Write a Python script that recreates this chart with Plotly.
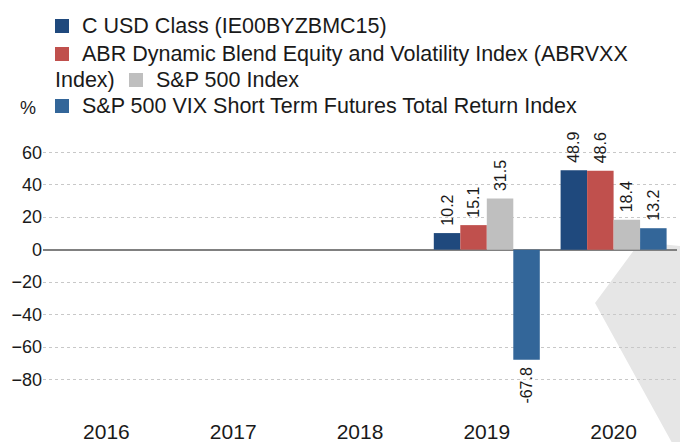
import plotly.graph_objects as go

years = ["2016", "2017", "2018", "2019", "2020"]
series_names = [
    "C USD Class (IE00BYZBMC15)",
    "ABR Dynamic Blend Equity and Volatility Index (ABRVXX Index)",
    "S&P 500 Index",
    "S&P 500 VIX Short Term Futures Total Return Index",
]
c_usd = [None, None, None, 10.2, 48.9]
abr_index = [None, None, None, 15.1, 48.6]
sp500 = [None, None, None, 31.5, 18.4]
vix_str = [None, None, None, -67.8, 13.2]
colors = ["#1f497d", "#c0504d", "#bfbfbf", "#336699"]
y_ticks = [-80, -60, -40, -20, 0, 20, 40, 60]

W, H = 680, 442
L, R, T, B = 43, 3, 136, 25
PW, PH = W - L - R, H - T - B


def px(x):
    return (x - L) / PW


def py(y):
    return (H - B - y) / PH


NB = "\u00a0"


def lab(v):
    if v is None:
        return None
    s = f"{v:.1f}"
    return NB + s if v >= 0 else s + NB


FONT = "Liberation Sans, Arial, sans-serif"
fig = go.Figure()
for name, vals, col in zip(series_names, [c_usd, abr_index, sp500, vix_str], colors):
    fig.add_trace(go.Bar(
        x=years, y=vals, name=name, marker_color=col, marker_line_width=0,
        text=[lab(v) for v in vals],
        textposition="outside", textangle=-90, cliponaxis=False,
        constraintext="none",
        textfont=dict(family=FONT, size=16, color="#1a1a1a"),
        showlegend=False,
    ))

# decorative wedge
pts = [(595, 303), (640, 242), (680, 246), (700, 247), (700, 450), (676, 450)]
path = "M " + " L ".join(f"{px(x):.4f},{py(y):.4f}" for x, y in pts) + " Z"
shapes = [dict(type="path", xref="paper", yref="paper", path=path,
               fillcolor="#e6e6e6", line=dict(width=0), layer="below")]

annotations = []
legend_font = dict(family=FONT, size=21.5, color="#1a1a1a")
items = [
    (55, 26, 80, series_names[0]),
    (55, 54, 80, "ABR Dynamic Blend Equity and Volatility Index (ABRVXX"),
    (129, 80, 154, series_names[2]),
    (55, 106, 80, series_names[3]),
]
for (sx, cy, tx, txt), col in zip(items, colors):
    shapes.append(dict(type="rect", xref="paper", yref="paper",
                       x0=px(sx), x1=px(sx + 14), y0=py(cy - 7), y1=py(cy + 7),
                       fillcolor=col, line=dict(width=0)))
    annotations.append(dict(xref="paper", yref="paper", x=px(tx), y=py(cy),
                            xanchor="left", yanchor="middle", text=txt,
                            showarrow=False, font=legend_font))
annotations.append(dict(xref="paper", yref="paper", x=px(53), y=py(80),
                        xanchor="left", yanchor="middle", text="Index)",
                        showarrow=False, font=legend_font))
annotations.append(dict(xref="paper", yref="paper", x=px(38), y=py(108),
                        xanchor="right", yanchor="middle", text="%",
                        showarrow=False, font=dict(family=FONT, size=18, color="#1a1a1a")))

fig.update_layout(
    width=W, height=H,
    margin=dict(l=L, r=R, t=T, b=B, autoexpand=False),
    paper_bgcolor="white", plot_bgcolor="white",
    barmode="group", bargap=0.164, bargroupgap=0,
    font=dict(family=FONT, color="#1a1a1a"),
    shapes=shapes, annotations=annotations,
    xaxis=dict(type="category", categoryorder="array", categoryarray=years,
               showgrid=False, showline=False, ticks="", automargin=False,
               tickfont=dict(family=FONT, size=21, color="#1a1a1a")),
    yaxis=dict(range=[-103.1, 70], tickvals=y_ticks, showgrid=True,
               gridcolor="#c8c8c8", griddash="dot", gridwidth=1,
               zeroline=True, zerolinecolor="#808080", zerolinewidth=1.5,
               showline=False, ticks="", automargin=False,
               tickfont=dict(family=FONT, size=18, color="#1a1a1a")),
)
fig.write_html("out.html")
